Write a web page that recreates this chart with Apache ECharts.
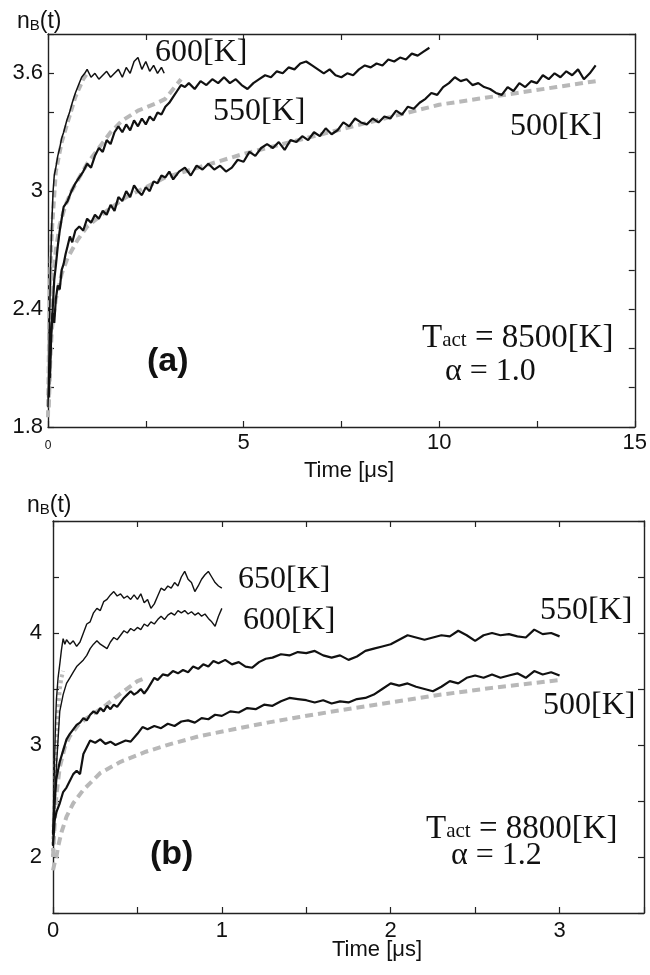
<!DOCTYPE html>
<html>
<head>
<meta charset="utf-8">
<script src="https://cdn.jsdelivr.net/npm/echarts@6/dist/echarts.min.js"></script>
<style>
html,body{margin:0;padding:0;background:#fff;}
#myChart{width:650px;height:975px;}
</style>
</head>
<body>
<div id="myChart"></div>
<script>
// (a) Tact = 8500K, alpha = 1.0  -- time in us, nB
var a500 = [[0.02,1.95],[0.05,2.15],[0.08,2.3],[0.12,2.38],[0.16,2.33],[0.2,2.45],[0.25,2.52],[0.3,2.5],[0.35,2.6],[0.4,2.63],[0.45,2.68],[0.5,2.72],[0.56,2.77],[0.62,2.74],[0.7,2.8],[0.8,2.82],[0.9,2.8],[1.0,2.86],[1.1,2.84],[1.2,2.88],[1.3,2.86],[1.4,2.9],[1.5,2.88],[1.6,2.93],[1.7,2.9],[1.8,2.97],[1.9,2.95],[2.0,3.0],[2.1,2.97],[2.2,3.03],[2.3,3.0],[2.4,2.98],[2.5,3.02],[2.6,3.0],[2.7,3.05],[2.8,3.04],[2.9,3.08],[3.0,3.07],[3.1,3.1],[3.2,3.06],[3.35,3.1],[3.5,3.12],[3.65,3.08],[3.8,3.13],[3.95,3.11],[4.1,3.14],[4.25,3.11],[4.4,3.13],[4.55,3.1],[4.7,3.12],[4.85,3.16],[5.0,3.15],[5.15,3.2],[5.3,3.18],[5.45,3.22],[5.6,3.24],[5.75,3.22],[5.9,3.25],[6.05,3.21],[6.2,3.26],[6.35,3.25],[6.5,3.28],[6.65,3.26],[6.8,3.3],[6.95,3.28],[7.1,3.32],[7.25,3.29],[7.4,3.31],[7.55,3.35],[7.7,3.33],[7.85,3.37],[8.0,3.35],[8.15,3.34],[8.3,3.37],[8.45,3.35],[8.6,3.38],[8.75,3.37],[8.9,3.41],[9.05,3.39],[9.2,3.43],[9.35,3.42],[9.5,3.45],[9.65,3.47],[9.8,3.5],[9.95,3.49],[10.1,3.53],[10.25,3.55],[10.4,3.58],[10.55,3.56],[10.7,3.57],[10.85,3.54],[11.0,3.55],[11.15,3.53],[11.3,3.52],[11.45,3.5],[11.6,3.49],[11.75,3.53],[11.9,3.51],[12.05,3.55],[12.2,3.53],[12.35,3.56],[12.5,3.55],[12.65,3.59],[12.8,3.57],[12.95,3.6],[13.1,3.58],[13.25,3.61],[13.4,3.59],[13.55,3.62],[13.7,3.57],[13.85,3.6],[14.0,3.64]];
var a550 = [[0.05,2.05],[0.08,2.25],[0.12,2.4],[0.16,2.55],[0.2,2.62],[0.25,2.72],[0.3,2.8],[0.35,2.86],[0.4,2.92],[0.5,2.95],[0.6,3.0],[0.7,3.04],[0.8,3.07],[0.9,3.1],[1.0,3.14],[1.1,3.12],[1.2,3.18],[1.3,3.22],[1.4,3.2],[1.5,3.26],[1.6,3.24],[1.7,3.3],[1.8,3.33],[1.9,3.3],[2.0,3.34],[2.1,3.31],[2.2,3.36],[2.3,3.33],[2.4,3.37],[2.5,3.34],[2.6,3.38],[2.7,3.36],[2.8,3.4],[2.9,3.39],[3.0,3.43],[3.1,3.45],[3.2,3.48],[3.3,3.51],[3.4,3.54],[3.5,3.53],[3.6,3.55],[3.75,3.52],[3.9,3.56],[4.05,3.54],[4.2,3.57],[4.35,3.55],[4.5,3.58],[4.65,3.55],[4.8,3.57],[4.95,3.54],[5.1,3.52],[5.25,3.55],[5.4,3.57],[5.55,3.59],[5.7,3.58],[5.85,3.61],[6.0,3.6],[6.15,3.63],[6.3,3.62],[6.45,3.65],[6.6,3.66],[6.75,3.64],[6.9,3.62],[7.05,3.6],[7.2,3.62],[7.35,3.59],[7.5,3.58],[7.65,3.6],[7.8,3.59],[7.95,3.62],[8.1,3.64],[8.25,3.63],[8.4,3.65],[8.55,3.64],[8.7,3.67],[8.85,3.66],[9.0,3.68],[9.15,3.67],[9.3,3.7],[9.45,3.69],[9.6,3.71],[9.75,3.73]];
var a600 = [[0.0,1.9],[0.02,2.1],[0.04,2.35],[0.06,2.55],[0.08,2.72],[0.1,2.85],[0.13,3.0],[0.16,3.08],[0.2,3.12],[0.25,3.18],[0.3,3.22],[0.35,3.27],[0.4,3.3],[0.48,3.36],[0.55,3.4],[0.62,3.45],[0.7,3.5],[0.78,3.54],[0.86,3.58],[0.94,3.6],[1.0,3.62],[1.1,3.58],[1.2,3.6],[1.3,3.57],[1.4,3.59],[1.5,3.61],[1.6,3.58],[1.7,3.6],[1.8,3.62],[1.9,3.58],[2.0,3.63],[2.1,3.6],[2.2,3.66],[2.3,3.68],[2.4,3.62],[2.5,3.66],[2.6,3.61],[2.7,3.64],[2.8,3.6],[2.9,3.63],[2.97,3.6]];
var a500fit = [[0.02,1.9],[0.06,2.15],[0.1,2.3],[0.2,2.45],[0.35,2.58],[0.5,2.66],[0.75,2.75],[1.0,2.82],[1.5,2.9],[2.0,2.97],[3.0,3.07],[4.0,3.13],[5.0,3.19],[6.0,3.24],[7.0,3.29],[8.0,3.34],[9.0,3.39],[10.0,3.44],[11.0,3.47],[12.0,3.5],[13.0,3.53],[14.0,3.56]];
var a550fit = [[0.02,1.95],[0.06,2.3],[0.12,2.55],[0.2,2.7],[0.3,2.83],[0.45,2.93],[0.6,3.0],[0.8,3.07],[1.0,3.14],[1.3,3.22],[1.6,3.3],[1.9,3.36],[2.3,3.41],[2.8,3.45],[3.0,3.47],[3.2,3.52],[3.4,3.57]];
var a600fit = [[0.0,1.85],[0.03,2.3],[0.06,2.6],[0.1,2.8],[0.2,3.1],[0.35,3.25],[0.5,3.35],[0.7,3.48],[0.9,3.57],[1.0,3.6]];

// (b) Tact = 8800K, alpha = 1.2
var b500 = [[0.0,2.1],[0.01,2.33],[0.02,2.4],[0.04,2.48],[0.06,2.58],[0.08,2.62],[0.1,2.68],[0.12,2.74],[0.14,2.77],[0.16,2.74],[0.18,2.92],[0.2,2.98],[0.22,3.04],[0.25,3.02],[0.28,3.05],[0.31,3.01],[0.34,3.03],[0.37,3.0],[0.4,3.02],[0.43,3.04],[0.46,3.03],[0.5,3.1],[0.53,3.16],[0.56,3.14],[0.6,3.17],[0.64,3.15],[0.68,3.19],[0.72,3.17],[0.76,3.21],[0.8,3.22],[0.84,3.2],[0.88,3.24],[0.92,3.23],[0.96,3.27],[1.0,3.26],[1.05,3.3],[1.1,3.29],[1.15,3.33],[1.2,3.32],[1.25,3.36],[1.3,3.35],[1.35,3.39],[1.4,3.42],[1.45,3.41],[1.5,3.4],[1.55,3.38],[1.6,3.4],[1.65,3.37],[1.7,3.39],[1.75,3.38],[1.8,3.41],[1.85,3.42],[1.9,3.45],[1.95,3.5],[2.0,3.55],[2.05,3.53],[2.1,3.55],[2.15,3.52],[2.2,3.5],[2.25,3.48],[2.3,3.52],[2.35,3.57],[2.4,3.55],[2.45,3.6],[2.5,3.62],[2.55,3.6],[2.6,3.63],[2.65,3.6],[2.7,3.62],[2.75,3.64],[2.8,3.6],[2.85,3.66],[2.9,3.63],[2.95,3.65],[3.0,3.62]];
var b550 = [[0.0,2.2],[0.01,2.5],[0.02,2.7],[0.04,2.85],[0.06,2.95],[0.08,3.05],[0.1,3.1],[0.12,3.14],[0.14,3.18],[0.16,3.2],[0.18,3.24],[0.2,3.22],[0.22,3.27],[0.24,3.3],[0.26,3.28],[0.28,3.33],[0.3,3.3],[0.32,3.35],[0.34,3.32],[0.36,3.36],[0.38,3.34],[0.4,3.38],[0.42,3.42],[0.44,3.45],[0.46,3.48],[0.48,3.45],[0.5,3.47],[0.52,3.5],[0.54,3.46],[0.56,3.5],[0.58,3.55],[0.6,3.6],[0.62,3.58],[0.65,3.63],[0.68,3.62],[0.71,3.66],[0.74,3.64],[0.77,3.67],[0.8,3.65],[0.83,3.7],[0.86,3.68],[0.89,3.72],[0.92,3.7],[0.95,3.75],[0.98,3.73],[1.02,3.76],[1.06,3.72],[1.1,3.74],[1.14,3.7],[1.18,3.69],[1.22,3.74],[1.26,3.77],[1.3,3.78],[1.35,3.81],[1.4,3.8],[1.45,3.83],[1.5,3.82],[1.55,3.84],[1.6,3.8],[1.65,3.78],[1.7,3.8],[1.75,3.76],[1.8,3.79],[1.85,3.84],[1.9,3.86],[1.95,3.88],[2.0,3.9],[2.05,3.94],[2.1,3.98],[2.15,3.96],[2.2,3.94],[2.25,3.96],[2.3,3.98],[2.35,3.97],[2.4,4.02],[2.45,3.98],[2.5,3.93],[2.55,3.98],[2.6,4.0],[2.65,3.98],[2.7,3.99],[2.75,3.97],[2.8,3.96],[2.85,4.03],[2.9,3.99],[2.95,4.0],[3.0,3.97]];
var b600 = [[0.0,2.1],[0.01,2.5],[0.02,2.8],[0.03,3.05],[0.04,3.3],[0.06,3.45],[0.08,3.55],[0.1,3.6],[0.12,3.65],[0.14,3.7],[0.16,3.73],[0.18,3.76],[0.2,3.8],[0.22,3.86],[0.24,3.9],[0.26,3.93],[0.28,3.9],[0.3,3.88],[0.32,3.86],[0.34,3.92],[0.36,3.96],[0.38,3.94],[0.4,3.98],[0.42,4.02],[0.44,4.0],[0.46,4.04],[0.48,4.02],[0.5,4.05],[0.52,4.03],[0.54,4.08],[0.56,4.06],[0.58,4.1],[0.6,4.08],[0.62,4.12],[0.64,4.15],[0.66,4.12],[0.68,4.16],[0.7,4.18],[0.72,4.16],[0.74,4.2],[0.76,4.18],[0.78,4.2],[0.8,4.17],[0.82,4.19],[0.84,4.16],[0.86,4.18],[0.88,4.15],[0.9,4.17],[0.92,4.13],[0.94,4.1],[0.96,4.06],[0.98,4.15],[1.0,4.22]];
var b650 = [[0.0,2.2],[0.005,2.6],[0.01,2.9],[0.015,3.2],[0.02,3.4],[0.03,3.6],[0.04,3.72],[0.05,3.85],[0.06,3.95],[0.07,3.9],[0.08,3.94],[0.1,3.9],[0.12,3.93],[0.14,3.88],[0.16,3.92],[0.18,4.0],[0.2,4.08],[0.22,4.1],[0.24,4.18],[0.26,4.22],[0.28,4.2],[0.3,4.28],[0.32,4.3],[0.34,4.34],[0.36,4.37],[0.38,4.33],[0.4,4.35],[0.42,4.31],[0.44,4.33],[0.46,4.3],[0.48,4.34],[0.5,4.3],[0.52,4.35],[0.54,4.27],[0.56,4.3],[0.58,4.22],[0.6,4.26],[0.62,4.33],[0.64,4.4],[0.66,4.38],[0.68,4.42],[0.7,4.4],[0.72,4.45],[0.74,4.42],[0.76,4.5],[0.78,4.55],[0.8,4.48],[0.82,4.45],[0.84,4.37],[0.86,4.42],[0.88,4.48],[0.9,4.52],[0.92,4.55],[0.94,4.5],[0.96,4.45],[0.98,4.42],[1.0,4.4]];
var b500fit = [[0.0,1.88],[0.01,1.95],[0.02,2.0],[0.03,2.09],[0.05,2.22],[0.08,2.36],[0.12,2.48],[0.18,2.6],[0.28,2.75],[0.4,2.85],[0.55,2.94],[0.7,3.01],[0.87,3.08],[1.07,3.14],[1.27,3.2],[1.46,3.25],[1.7,3.31],[2.0,3.38],[2.3,3.45],[2.6,3.51],[3.0,3.58]];
var b550fit = [[0.0,2.0],[0.01,2.3],[0.02,2.55],[0.04,2.8],[0.07,2.98],[0.1,3.08],[0.15,3.18],[0.2,3.24],[0.3,3.34],[0.4,3.46],[0.5,3.57],[0.55,3.6]];
var b600fit = [[0.0,2.0],[0.01,2.6],[0.02,3.0],[0.03,3.3],[0.04,3.5],[0.05,3.6],[0.06,3.66]];

// tick labels
var aXLabels = [0, 5, 10, 15];
var aYLabels = [1.8, 2.4, 3, 3.6];
var bXLabels = [0, 1, 2, 3];
var bYLabels = [2, 3, 4];

var sans = 'Liberation Sans, Arial, sans-serif';
var serif = 'Liberation Serif, Times New Roman, serif';

function inList(list, v) {
    for (var i = 0; i < list.length; i++) {
        if (Math.abs(list[i] - v) < 1e-6) return true;
    }
    return false;
}
function fmt(list) {
    return function (v) {
        if (!inList(list, v)) return '';
        return String(Math.round(v * 10) / 10);
    };
}

function axLine() {
    return {show: true, onZero: false, lineStyle: {color: '#222', width: 1.4}};
}
function axTick() {
    return {show: true, inside: true, length: 6, lineStyle: {color: '#222', width: 1.2}};
}

function xAx(grid, min, max, step, pos, labels, margin, smallZero) {
    return {
        type: 'value', gridIndex: grid, min: min, max: max, interval: step, position: pos,
        axisLine: axLine(), axisTick: axTick(), splitLine: {show: false},
        axisLabel: labels ? {
            show: true, color: '#111', fontFamily: sans, fontSize: 22, margin: margin,
            formatter: function (v) {
                if (!inList(labels, v)) return '';
                if (smallZero && v === 0) return '{s|0}';
                return String(Math.round(v * 10) / 10);
            },
            rich: {s: {fontSize: 12, fontFamily: sans, color: '#111', padding: [8, 0, 0, 0]}}
        } : {show: false}
    };
}
function yAx(grid, min, max, step, pos, labels, margin) {
    return {
        type: 'value', gridIndex: grid, min: min, max: max, interval: step, position: pos,
        axisLine: axLine(), axisTick: axTick(), splitLine: {show: false},
        axisLabel: labels ? {
            show: true, color: '#111', fontFamily: sans, fontSize: 22, margin: margin,
            formatter: fmt(labels)
        } : {show: false}
    };
}

function black(x, y, data, w) {
    return {type: 'line', xAxisIndex: x, yAxisIndex: y, data: data, showSymbol: false, z: 3,
        lineStyle: {color: '#111', width: w}, animation: false};
}
function gray(x, y, data, dash) {
    return {type: 'line', xAxisIndex: x, yAxisIndex: y, data: data, showSymbol: false, z: 2,
        lineStyle: {color: '#b8b8b8', width: 4, type: dash}, animation: false};
}

function txt(x, y, text, size, family, weight, rich) {
    return {type: 'text', x: x, y: y, z: 10, style: {
        text: text, fontSize: size, fontFamily: family, fontWeight: weight || 'normal',
        fill: '#111', verticalAlign: 'middle', align: 'left', rich: rich}};
}
var nbRich = {n: {fontSize: 23, fontFamily: sans, color: '#111', verticalAlign: 'bottom', lineHeight: 26},
    b: {fontSize: 15, fontFamily: sans, color: '#111', verticalAlign: 'bottom', lineHeight: 22}};
var tRich = {t: {fontSize: 33, fontFamily: serif, color: '#111', verticalAlign: 'bottom', lineHeight: 34},
    s: {fontSize: 21, fontFamily: serif, color: '#111', verticalAlign: 'bottom', lineHeight: 25, padding: [0, 0, 4, 0]}};

var myChart = echarts.init(document.getElementById('myChart'));
var options = {
    backgroundColor: '#fff',
    animation: false,
    grid: [
        {left: 48, top: 34, width: 590, height: 393},
        {left: 53, top: 521, width: 591, height: 392}
    ],
    xAxis: [
        xAx(0, 0, 15, 2.5, 'bottom', aXLabels, 5, true),
        xAx(0, 0, 15, 2.5, 'top', null),
        xAx(1, 0, 3.5, 0.5, 'bottom', bXLabels, 7, false),
        xAx(1, 0, 3.5, 0.5, 'top', null)
    ],
    yAxis: [
        yAx(0, 1.8, 3.8, 0.2, 'left', aYLabels, 5),
        yAx(0, 1.8, 3.8, 0.2, 'right', null),
        yAx(1, 1.5, 5, 0.5, 'left', bYLabels, 11),
        yAx(1, 1.5, 5, 0.5, 'right', null)
    ],
    series: [
        gray(0, 0, a600fit, [7, 4]),
        gray(0, 0, a550fit, [8, 5]),
        gray(0, 0, a500fit, [8, 5]),
        black(0, 0, a600, 1.5),
        black(0, 0, a550, 2.2),
        black(0, 0, a500, 2.2),
        gray(2, 2, b600fit, [3, 3]),
        gray(2, 2, b550fit, [8, 5]),
        gray(2, 2, b500fit, [8, 5]),
        black(2, 2, b650, 1.4),
        black(2, 2, b600, 1.4),
        black(2, 2, b550, 2.2),
        black(2, 2, b500, 2.2)
    ],
    graphic: [
        txt(17, 20, '{n|n}{b|B}{n|(t)}', 23, sans, 'normal', nbRich),
        txt(27, 504, '{n|n}{b|B}{n|(t)}', 23, sans, 'normal', nbRich),
        {type: 'text', x: 349, y: 471, z: 10, style: {text: 'Time [μs]', fontSize: 22, fontFamily: sans, fill: '#111', align: 'center', verticalAlign: 'middle'}},
        {type: 'text', x: 377, y: 950, z: 10, style: {text: 'Time [μs]', fontSize: 22, fontFamily: sans, fill: '#111', align: 'center', verticalAlign: 'middle'}},
        txt(155, 53, '600[K]', 32, serif),
        txt(213, 112, '550[K]', 32, serif),
        txt(510, 127, '500[K]', 32, serif),
        txt(422, 338, '{t|T}{s|act}{t| = 8500[K]}', 33, serif, 'normal', tRich),
        txt(445, 372, 'α = 1.0', 32, serif),
        txt(147, 362, '(a)', 34, sans, 'bold'),
        txt(238, 580, '650[K]', 32, serif),
        txt(243, 621, '600[K]', 32, serif),
        txt(540, 611, '550[K]', 32, serif),
        txt(543, 706, '500[K]', 32, serif),
        txt(426, 829, '{t|T}{s|act}{t| = 8800[K]}', 33, serif, 'normal', tRich),
        txt(451, 856, 'α = 1.2', 32, serif),
        txt(150, 855, '(b)', 34, sans, 'bold')
    ]
};
myChart.setOption(options);
</script>
</body>
</html>
